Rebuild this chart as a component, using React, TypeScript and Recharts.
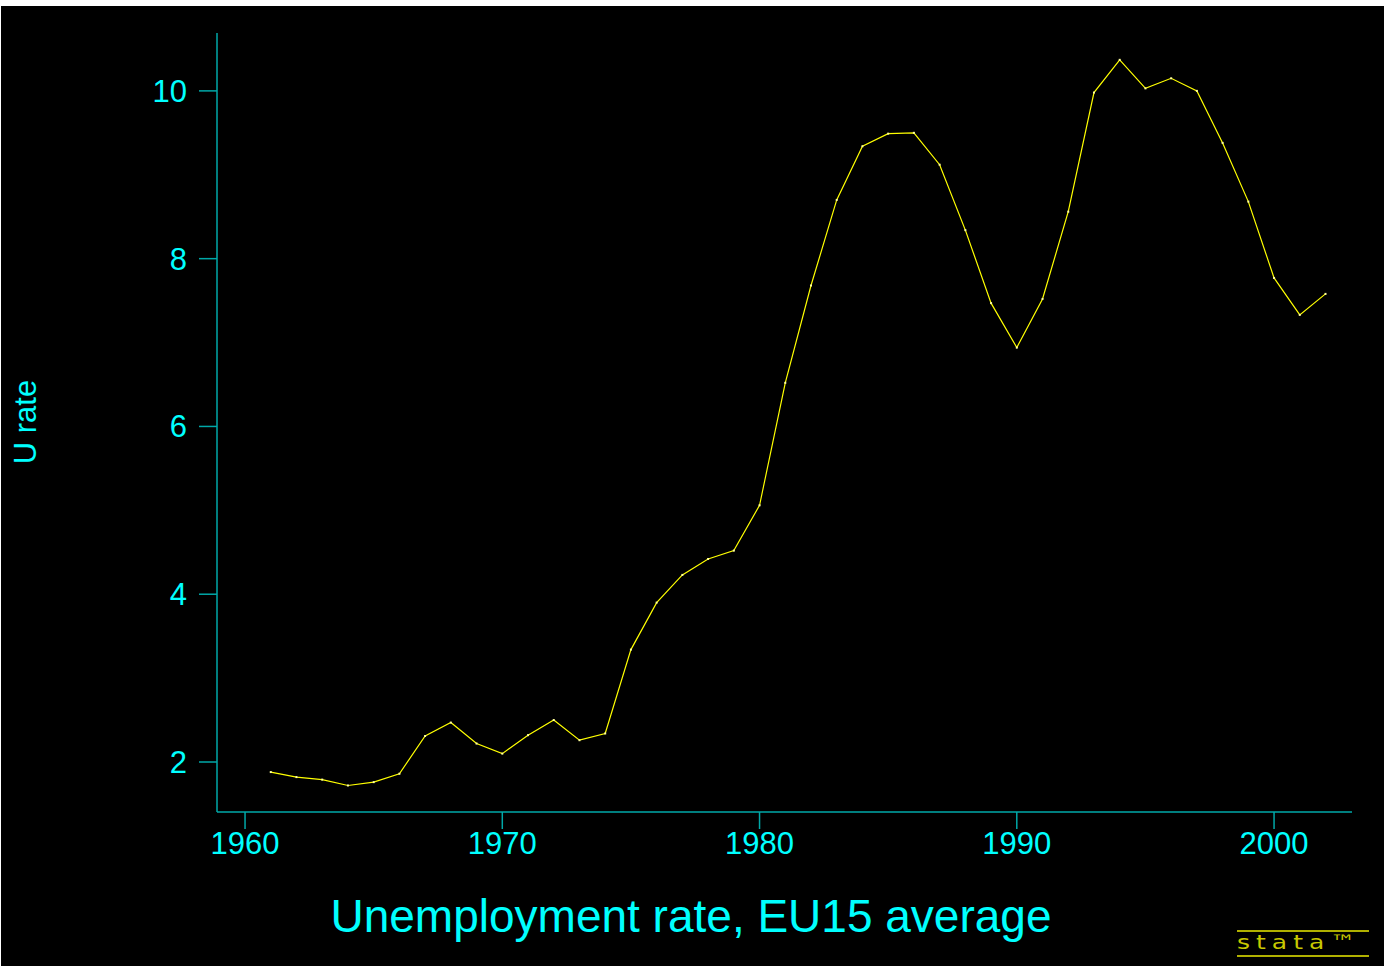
import { LineChart, Line, XAxis, YAxis } from "recharts";

// EU15 average unemployment rate
const years = [
  1961, 1962, 1963, 1964, 1965, 1966, 1967, 1968, 1969, 1970,
  1971, 1972, 1973, 1974, 1975, 1976, 1977, 1978, 1979, 1980,
  1981, 1982, 1983, 1984, 1985, 1986, 1987, 1988, 1989, 1990,
  1991, 1992, 1993, 1994, 1995, 1996, 1997, 1998, 1999, 2000,
  2001, 2002,
];
const urate = [
  1.88, 1.82, 1.79, 1.72, 1.76, 1.86, 2.31, 2.47, 2.22, 2.1,
  2.32, 2.5, 2.26, 2.34, 3.34, 3.9, 4.23, 4.42, 4.52, 5.06,
  6.52, 7.68, 8.7, 9.34, 9.49, 9.5, 9.12, 8.34, 7.47, 6.94,
  7.52, 8.56, 9.98, 10.37, 10.03, 10.15, 10.0, 9.38, 8.68, 7.77,
  7.33, 7.58,
];
const xTicks = [1960, 1970, 1980, 1990, 2000];
const yTicks = [2, 4, 6, 8, 10];

const data = years.map((year, i) => ({ year, urate: urate[i] }));

const FONT = "'Liberation Sans', Arial, sans-serif";
const CYAN = "#00ffff";
const AXIS = "#00a8a8";
const YELLOW = "#ffff00";

const Dot = (props: any) => {
  const { cx, cy } = props;
  if (cx == null || cy == null) return null;
  return <rect x={cx - 1} y={cy - 1} width={2} height={2} fill="#ffffa0" />;
};

export default function App() {
  return (
    <div style={{ position: "absolute", left: 0, top: 0, width: 1384, height: 966, background: "#fff" }}>
      <div style={{ position: "absolute", left: 1, top: 6, width: 1383, height: 960, background: "#000" }} />
      <div style={{ position: "absolute", left: 0, top: 0 }}>
        <LineChart
          width={1384}
          height={966}
          data={data}
          margin={{ top: 33, right: 32, bottom: 104, left: 0 }}
        >
          <XAxis
            dataKey="year"
            type="number"
            domain={[1958.91, 2003.03]}
            ticks={xTicks}
            allowDataOverflow
            height={50}
            stroke={AXIS}
            tickSize={17}
            tickMargin={3}
            tick={{ fill: CYAN, fontSize: 31, fontFamily: FONT }}
            tickLine={{ stroke: AXIS, strokeWidth: 1.5 }}
            axisLine={{ stroke: AXIS, strokeWidth: 1.5 }}
          />
          <YAxis
            type="number"
            domain={[1.404, 10.69]}
            ticks={yTicks}
            allowDataOverflow
            width={217}
            stroke={AXIS}
            tickSize={18}
            tickMargin={12}
            tick={{ fill: CYAN, fontSize: 31, fontFamily: FONT }}
            tickLine={{ stroke: AXIS, strokeWidth: 1.5 }}
            axisLine={{ stroke: AXIS, strokeWidth: 1.5 }}
          />
          <Line
            type="linear"
            dataKey="urate"
            stroke={YELLOW}
            strokeWidth={1.2}
            dot={<Dot />}
            activeDot={false}
            isAnimationActive={false}
          />
        </LineChart>
      </div>
      <div
        style={{
          position: "absolute",
          left: 25,
          top: 422,
          transform: "translate(-50%, -50%) rotate(-90deg)",
          color: CYAN,
          fontFamily: FONT,
          fontSize: 31,
          whiteSpace: "nowrap",
          lineHeight: 1,
        }}
      >
        U rate
      </div>
      <div
        style={{
          position: "absolute",
          left: 691,
          top: 916,
          transform: "translate(-50%, -50%)",
          color: CYAN,
          fontFamily: FONT,
          fontSize: 46,
          whiteSpace: "nowrap",
          lineHeight: 1,
        }}
      >
        Unemployment rate, EU15 average
      </div>
      <div style={{ position: "absolute", left: 1237, top: 930, width: 132, height: 2, background: "#b0b000" }} />
      <div style={{ position: "absolute", left: 1237, top: 955, width: 132, height: 2, background: "#b0b000" }} />
      <div
        style={{
          position: "absolute",
          left: 1237,
          top: 931,
          width: 132,
          color: "#c8c800",
          fontFamily: "'DejaVu Sans', sans-serif",
          fontSize: 25,
          letterSpacing: 6,
          lineHeight: "24px",
          whiteSpace: "nowrap",
          transform: "scaleY(0.8)",
          transformOrigin: "left center",
        }}
      >
        stata™
      </div>
    </div>
  );
}
